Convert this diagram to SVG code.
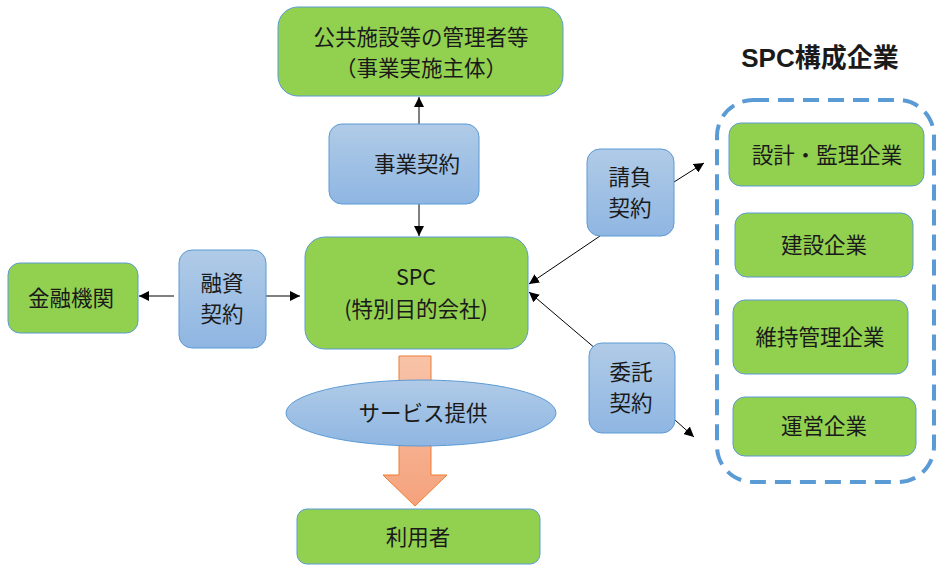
<svg xmlns="http://www.w3.org/2000/svg" width="940" height="576" viewBox="0 0 940 576">
<defs>
<linearGradient id="bg" x1="0" y1="0" x2="0" y2="1"><stop offset="0" stop-color="#b0cbe7"/><stop offset="1" stop-color="#8fb6e2"/></linearGradient>
<linearGradient id="og" x1="0" y1="0" x2="0" y2="1"><stop offset="0" stop-color="#f8c3a8"/><stop offset="1" stop-color="#f5a27c"/></linearGradient>
<marker id="ah" viewBox="0 0 10 10" refX="10" refY="5" markerWidth="10" markerHeight="10" markerUnits="userSpaceOnUse" orient="auto"><path d="M0,0 L10,5 L0,10 z" fill="#000"/></marker>
</defs>
<style>
.g{fill:#92d050;stroke:#5b9bd5;stroke-width:1}
.b{fill:url(#bg);stroke:#5b9bd5;stroke-width:1}
text{font-family:"Noto Sans CJK JP","Noto Sans",sans-serif;font-size:21.5px;fill:#1a1a1a;text-anchor:middle}
.c{stroke:#000;stroke-width:1;fill:none;marker-end:url(#ah)}
</style>
<rect width="940" height="576" fill="#fff"/>
<g id="top"><rect class="g" x="278" y="7" width="285" height="89" rx="20"/><text x="421" y="45">公共施設等の管理者等</text><text x="421" y="76">（事業実施主体）</text></g>
<g id="spc"><rect class="g" x="305" y="237" width="223" height="112" rx="20"/><text x="416" y="285">SPC</text><text x="416" y="317">(特別目的会社)</text></g>
<g id="kinyu"><rect class="g" x="8" y="263" width="130" height="70" rx="12"/><text x="71" y="306">金融機関</text></g>
<g id="riyo"><rect class="g" x="297" y="509" width="243" height="55" rx="10"/><text x="418" y="545">利用者</text></g>
<g id="connectors">
<line class="c" x1="419" y1="124" x2="419" y2="97"/>
<line class="c" x1="419" y1="204" x2="419" y2="236"/>
<line class="c" x1="174" y1="296" x2="139" y2="296"/>
<line class="c" x1="266" y1="296" x2="300" y2="296"/>
<line class="c" x1="600" y1="236" x2="529" y2="284"/>
<line class="c" x1="674" y1="182" x2="704" y2="163"/>
<line class="c" x1="596" y1="349" x2="529" y2="292"/>
<line class="c" x1="675" y1="420" x2="694" y2="437"/>
</g>
<g id="jigyo"><rect class="b" x="329" y="124" width="150" height="80" rx="13"/><text x="417" y="172">事業契約</text></g>
<g id="yushi"><rect class="b" x="179" y="250" width="87" height="98" rx="13"/><text x="222" y="291">融資</text><text x="222" y="322">契約</text></g>
<g id="ukeoi"><rect class="b" x="587" y="149" width="87" height="87" rx="13"/><text x="630" y="185">請負</text><text x="630" y="216">契約</text></g>
<g id="itaku"><rect class="b" x="589" y="343" width="86" height="90" rx="13"/><text x="631" y="380">委託</text><text x="631" y="411">契約</text></g>
<g id="service"><path d="M399,356 H431 V475 H447 L415,506 L383,475 H399 Z" fill="url(#og)" stroke="#ed7d31" stroke-width="1"/><ellipse cx="421" cy="413" rx="135" ry="33" fill="url(#bg)" stroke="#5b9bd5" stroke-width="1"/><text x="423" y="421">サービス提供</text></g>
<g id="group"><rect x="717" y="100" width="217" height="382" rx="36" fill="none" stroke="#5b9bd5" stroke-width="4" stroke-dasharray="16 9"/><text x="820" y="67" style="font-family:'Liberation Sans','Noto Sans CJK JP',sans-serif;font-weight:bold;font-size:26px">SPC構成企業</text></g>
<g id="sekkei"><rect class="g" x="729" y="123" width="195" height="63" rx="12"/><text x="827" y="163">設計・監理企業</text></g>
<g id="kensetsu"><rect class="g" x="735" y="213" width="178" height="64" rx="12"/><text x="824" y="253">建設企業</text></g>
<g id="iji"><rect class="g" x="733" y="300" width="175" height="74" rx="12"/><text x="820" y="345">維持管理企業</text></g>
<g id="unei"><rect class="g" x="733" y="397" width="183" height="59" rx="12"/><text x="824" y="434">運営企業</text></g>
</svg>
